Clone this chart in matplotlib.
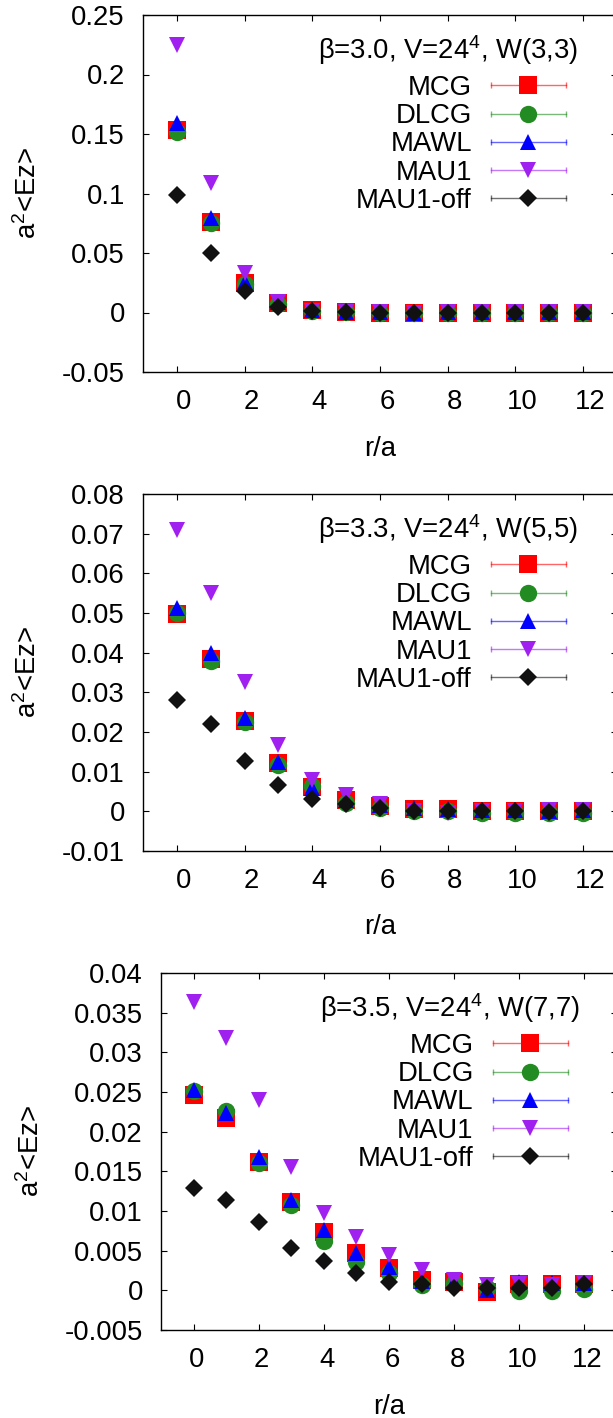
import numpy as np
import matplotlib
matplotlib.use("Agg")
import matplotlib.pyplot as plt
from matplotlib.lines import Line2D
from matplotlib.legend_handler import HandlerLine2D
from matplotlib.ticker import FuncFormatter, MultipleLocator
import matplotlib.transforms as mtransforms

plt.rcParams['font.family'] = ['Liberation Sans', 'DejaVu Sans']
plt.rcParams['mathtext.fontset'] = 'custom'
plt.rcParams['mathtext.rm'] = 'Liberation Sans'
plt.rcParams['mathtext.it'] = 'Liberation Sans'
plt.rcParams['axes.unicode_minus'] = False

r = list(range(13))
series_names = ["MCG", "DLCG", "MAWL", "MAU1", "MAU1-off"]

# beta = 3.0
b30_mcg = [0.153, 0.076, 0.025, 0.0077, 0.0017, 0.0004, 0.0000, -0.0003, -0.0002, -0.0002, -0.0002, -0.0002, -0.0002]
b30_dlcg = [0.152, 0.075, 0.024, 0.0070, 0.0015, 0.0003, 0.0000, -0.0002, 0.0000, -0.0002, -0.0002, -0.0002, -0.0002]
b30_mawl = [0.159, 0.079, 0.026, 0.0085, 0.0020, 0.0006, 0.0003, 0.0000, 0.0002, 0.0002, 0.0002, 0.0002, 0.0002]
b30_mau1 = [0.225, 0.109, 0.033, 0.0090, 0.0015, 0.0003, 0.0002, 0.0000, 0.0002, 0.0003, 0.0002, 0.0002, 0.0002]
b30_off = [0.099, 0.050, 0.0177, 0.0045, 0.0012, 0.0002, 0.0000, -0.0002, 0.0000, 0.0000, 0.0000, 0.0000, 0.0000]

# beta = 3.3
b33_mcg = [0.0497, 0.0385, 0.0227, 0.0121, 0.0061, 0.0029, 0.0014, 0.0006, 0.0006, 0.0002, 0.0002, 0.0000, 0.0002]
b33_dlcg = [0.0500, 0.0380, 0.0225, 0.0118, 0.0065, 0.0022, 0.0008, 0.0002, 0.0000, -0.0003, -0.0003, -0.0005, -0.0003]
b33_mawl = [0.0513, 0.0399, 0.0235, 0.0125, 0.0060, 0.0028, 0.0015, 0.0008, 0.0006, 0.0003, 0.0003, 0.0001, 0.0003]
b33_mau1 = [0.0709, 0.0550, 0.0325, 0.0168, 0.0079, 0.0041, 0.0018, 0.0002, -0.0005, 0.0001, 0.0002, 0.0003, 0.0003]
b33_off = [0.0281, 0.0220, 0.0127, 0.0066, 0.0031, 0.0018, 0.0008, 0.0002, 0.0002, 0.0000, 0.0000, -0.0001, 0.0000]

# beta = 3.5
b35_mcg = [0.0246, 0.0217, 0.0162, 0.0111, 0.0073, 0.0047, 0.0028, 0.0013, 0.0010, -0.0002, 0.0008, 0.0008, 0.0008]
b35_dlcg = [0.0251, 0.0226, 0.0160, 0.0107, 0.0062, 0.0036, 0.0022, 0.0007, 0.0009, 0.0003, -0.0001, -0.0001, 0.0002]
b35_mawl = [0.0253, 0.0224, 0.0168, 0.0114, 0.0076, 0.0047, 0.0030, 0.0012, 0.0010, 0.0001, 0.0010, 0.0009, 0.0009]
b35_mau1 = [0.0363, 0.0318, 0.0240, 0.0156, 0.0097, 0.0067, 0.0045, 0.0026, 0.0013, 0.0007, 0.0008, 0.0007, 0.0009]
b35_off = [0.0129, 0.0114, 0.0086, 0.0053, 0.0037, 0.0022, 0.0011, 0.0008, 0.0003, 0.0003, 0.0003, 0.0003, 0.0008]

titles = [r"β=3.0, V=24$^{4}$, W(3,3)",
          r"β=3.3, V=24$^{4}$, W(5,5)",
          r"β=3.5, V=24$^{4}$, W(7,7)"]
ylims = [(-0.05, 0.25), (-0.01, 0.08), (-0.005, 0.04)]
ysteps = [0.05, 0.01, 0.005]
panels = [
    [b30_mcg, b30_dlcg, b30_mawl, b30_mau1, b30_off],
    [b33_mcg, b33_dlcg, b33_mawl, b33_mau1, b33_off],
    [b35_mcg, b35_dlcg, b35_mawl, b35_mau1, b35_off],
]

colors = ['#ff0000', '#228b22', '#0000ff', '#a020f0', '#111111']
markers = ['s', 'o', '^', 'v', 'D']
msizes = [13, 12.5, 12, 12, 8.7]

W, H = 613, 1418
fig = plt.figure(figsize=(W / 100, H / 100), dpi=100)
FS = 19.8

# axes rectangles in pixels: left, top, right, bottom
rects = [(143, 15, 617, 372), (143, 494, 617, 851), (161, 973, 617, 1330)]
xlab_shift = [7, 7, 3]

for i, (rect, series) in enumerate(zip(rects, panels)):
    l, t, rr, b = rect
    ax = fig.add_axes([l / W, 1 - b / H, (rr - l) / W, (b - t) / H])
    for s, name, c, m, ms in zip(series, series_names, colors, markers, msizes):
        ax.plot(r, s, linestyle='none', marker=m, color=c, markersize=ms,
                markeredgewidth=0, zorder=3)
    ax.set_xlim(-1, 13)
    ax.set_ylim(*ylims[i])
    ax.xaxis.set_major_locator(MultipleLocator(2))
    ax.yaxis.set_major_locator(MultipleLocator(ysteps[i]))
    ax.yaxis.set_major_formatter(FuncFormatter(lambda v, p: "%g" % round(v, 6)))
    ax.tick_params(direction='in', top=True, right=True, length=4, width=0.8,
                   labelsize=FS)
    ax.tick_params(axis='x', pad=12)
    ax.tick_params(axis='y', pad=13)
    for sp in ax.spines.values():
        sp.set_linewidth(1.0)
    off = mtransforms.ScaledTranslation(xlab_shift[i] / 100, 0, fig.dpi_scale_trans)
    for lab in ax.get_xticklabels():
        lab.set_transform(lab.get_transform() + off)
    ax.set_xlabel("r/a", fontsize=FS, labelpad=15)
    ax.set_ylabel(r"a$^{2}$<Ez>", fontsize=FS, labelpad=14)

    ax.text(0.918, 0.902, titles[i], transform=ax.transAxes, ha='right',
            va='center', fontsize=FS)

    handles = []
    hmap = {}
    for name, c, m, ms in zip(series_names, colors, markers, msizes):
        bar = Line2D([], [], color=c, alpha=0.6, linewidth=1.0, marker='|',
                     markersize=5, markeredgewidth=1.0)
        mk = Line2D([], [], linestyle='none', color=c, marker=m,
                    markersize=ms, markeredgewidth=0)
        hmap[bar] = HandlerLine2D(numpoints=2, marker_pad=0)
        hmap[mk] = HandlerLine2D(numpoints=1)
        handles.append((bar, mk))
    ax.legend(handles, series_names, handler_map=hmap, loc='upper right',
              bbox_to_anchor=(0.892, 0.832), frameon=False, fontsize=FS,
              markerfirst=False, handlelength=2.72, handletextpad=0.7,
              labelspacing=0.08, borderpad=0, borderaxespad=0)

fig.savefig("out.png", dpi=100)
